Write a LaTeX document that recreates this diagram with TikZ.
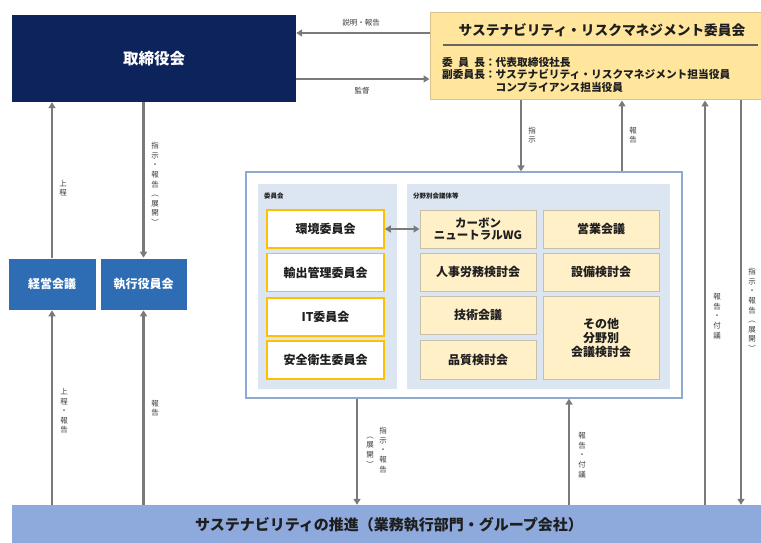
\documentclass[tikz,border=0pt]{standalone}
\usepackage{fontspec}
\setmainfont{Noto Sans CJK JP}
\usetikzlibrary{arrows.meta}
\definecolor{navy}{HTML}{0C235C}
\definecolor{midblue}{HTML}{2E6DB4}
\definecolor{rmcyellow}{HTML}{FFE69C}
\definecolor{rmcborder}{HTML}{D6C48C}
\definecolor{frameblue}{HTML}{8FAAD0}
\definecolor{panelblue}{HTML}{DCE6F2}
\definecolor{cmtborder}{HTML}{FFC000}
\definecolor{fieldfill}{HTML}{FFF0C8}
\definecolor{fieldborder}{HTML}{C8BFA8}
\definecolor{barblue}{HTML}{8EA9DB}
\definecolor{arrgray}{HTML}{7A7A7A}
\definecolor{txt}{HTML}{1E1E1E}
\definecolor{labtxt}{HTML}{3A3A3A}
\tikzset{
  arr/.style={draw=arrgray, line width=2.2pt, -{Triangle[width=7pt,length=6pt]}},
  darr/.style={draw=arrgray, line width=2.2pt, {Triangle[width=7pt,length=6pt]}-{Triangle[width=7pt,length=6pt]}},
  navybox/.style={fill=navy, draw=none, text=white, font=\fontsize{15.5}{17}\selectfont\bfseries, inner sep=0pt},
  bluebox/.style={fill=midblue, draw=white, line width=0.6pt, text=white, font=\fontsize{12}{14}\selectfont\bfseries, inner sep=0pt},
  cmtbox/.style={fill=white, draw=cmtborder, line width=1.6pt, text=txt, font=\fontsize{12}{14}\selectfont\bfseries, inner sep=0pt},
  fieldbox/.style={fill=fieldfill, draw=fieldborder, line width=1pt, text=txt, font=\fontsize{12}{14}\selectfont\bfseries, inner sep=0pt, align=center},
  panel/.style={fill=panelblue, draw=none, inner sep=0pt},
  vlab/.style={text=labtxt, font=\fontsize{7.5}{9.6}\selectfont, align=center, inner sep=0pt},
  hlab/.style={text=labtxt, font=\fontsize{7.5}{9}\selectfont, inner sep=0pt},
  small/.style={text=txt, font=\fontsize{6.5}{8}\selectfont\bfseries, inner sep=0pt, anchor=west},
  rmcline/.style={text=txt, font=\fontsize{10.7}{12}\selectfont\bfseries, inner sep=0pt, anchor=west}
}
\begin{document}
\begin{tikzpicture}[x=1pt,y=-1pt]
\useasboundingbox[fill=white] (0,0) rectangle (761,543);

% Board
\node[navybox, minimum width=284, minimum height=87] (board) at (154,58.5) {取締役会};

% Sustainability & risk management committee
\node[fill=rmcyellow, draw=rmcborder, line width=1pt, minimum width=334, minimum height=87, inner sep=0pt] (rmc) at (597,56.5) {};
\node[text=txt, font=\fontsize{13.7}{15}\selectfont\bfseries, inner sep=0pt] (rmctitle) at (602,30) {サステナビリティ・リスクマネジメント委員会};
\draw[draw=gray!80!black, line width=1.8pt] (443,45) -- (758,45);
\node[rmcline] (chair) at (442,62) {\makebox[42.8pt][s]{委\hfill 員\hfill 長}：代表取締役社長};
\node[rmcline] (vice) at (442,74.5) {副委員長：サステナビリティ・リスクマネジメント担当役員};
\node[rmcline] (vice2) at (495.5,87) {コンプライアンス担当役員};

% Board <-> RMC arrows
\draw[arr] (rmc.west |- 0,33) -- (board.east |- 0,33);
\draw[arr] (board.east |- 0,79) -- (rmc.west |- 0,79);
\node[hlab] (l1) at (361,23) {説明・報告};
\node[hlab] (l2) at (362,91) {監督};

% Management meeting boxes
\node[bluebox, minimum width=88, minimum height=52] (keiei) at (52,284) {経営会議};
\node[bluebox, minimum width=87, minimum height=52] (shikko) at (143.5,284) {執行役員会};

% Bottom bar
\node[fill=barblue, draw=none, minimum width=752, minimum height=39, inner sep=0pt] (bar) at (388,524.5) {};
\node[text=txt, font=\fontsize{15}{17}\selectfont\bfseries, inner sep=0pt] (bartext) at (389,525) {サステナビリティの推進（業務執行部門・グループ会社）};

% Big frame
\node[fill=white, draw=frameblue, line width=1.3pt, minimum width=436, minimum height=226, inner sep=0pt] (frame) at (464,285) {};
\node[panel, minimum width=139, minimum height=205] (lpanel) at (327.5,286) {};
\node[panel, minimum width=263, minimum height=205] (rpanel) at (538.5,286) {};
\node[small] (lpl) at (264,196) {委員会};
\node[small] (rpl) at (413,196) {分野別会議体等};

% Committees
\node[cmtbox, minimum width=117, minimum height=38] (kankyo) at (325.5,229) {環境委員会};
\node[cmtbox, minimum width=117, minimum height=38] (yushutsu) at (325.5,272.5) {輸出管理委員会};
\node[cmtbox, minimum width=117, minimum height=38] (it) at (325.5,317) {IT委員会};
\node[cmtbox, minimum width=117, minimum height=38] (anzen) at (325.5,360) {安全衛生委員会};

% Field meetings
\node[fieldbox, minimum width=116, minimum height=38, font=\fontsize{11.5}{11.5}\selectfont\bfseries] (carbon) at (478,229) {カーボン\\ニュートラルWG};
\node[fieldbox, minimum width=116, minimum height=38] (eigyo) at (601,229) {営業会議};
\node[fieldbox, minimum width=116, minimum height=38] (jinji) at (478,272) {人事労務検討会};
\node[fieldbox, minimum width=116, minimum height=38] (setsubi) at (601,272) {設備検討会};
\node[fieldbox, minimum width=116, minimum height=38] (gijutsu) at (478,315) {技術会議};
\node[fieldbox, minimum width=116, minimum height=39] (hinshitsu) at (478,359.5) {品質検討会};
\node[fieldbox, minimum width=116, minimum height=83, font=\fontsize{12}{14}\selectfont\bfseries] (sonota) at (601,337.5) {その他\\分野別\\会議検討会};

\draw[darr] (kankyo.east) -- (carbon.west);

% Left vertical arrows
\draw[arr] (keiei.north) -- (keiei.north |- board.south);
\draw[arr] (shikko.north |- board.south) -- (shikko.north);
\draw[arr] (keiei.south |- bar.north) -- (keiei.south);
\draw[arr] (shikko.south |- bar.north) -- (shikko.south);
\node[vlab] (v1) at (63,188) {上\\程};
\node[vlab] (v2) at (155,184) {指\\示\\・\\報\\告\\︵\\展\\開\\︶};
\node[vlab] (v3) at (64,411) {上\\程\\・\\報\\告};
\node[vlab] (v4) at (155,408) {報\\告};

% RMC <-> frame
\draw[arr] (rmc.south -| 521,0) -- (frame.north -| 521,0);
\draw[arr] (frame.north -| 622,0) -- (rmc.south -| 622,0);
\node[vlab] (v5) at (532,135) {指\\示};
\node[vlab] (v6) at (633,135) {報\\告};

% RMC <-> bar
\draw[arr] (bar.north -| 705,0) -- (rmc.south -| 705,0);
\draw[arr] (rmc.south -| 741,0) -- (bar.north -| 741,0);
\node[vlab] (v7) at (717,316) {報\\告\\・\\付\\議};
\node[vlab] (v8) at (752,310) {指\\示\\・\\報\\告\\︵\\展\\開\\︶};

% frame <-> bar
\draw[arr] (frame.south -| 357,0) -- (bar.north -| 357,0);
\draw[arr] (bar.north -| 569,0) -- (frame.south -| 569,0);
\node[vlab] (v9) at (383,450) {指\\示\\・\\報\\告};
\node[vlab] (v10) at (370,452) {︵\\展\\開\\︶};
\node[vlab] (v11) at (582,455) {報\\告\\・\\付\\議};
\end{tikzpicture}
\end{document}
